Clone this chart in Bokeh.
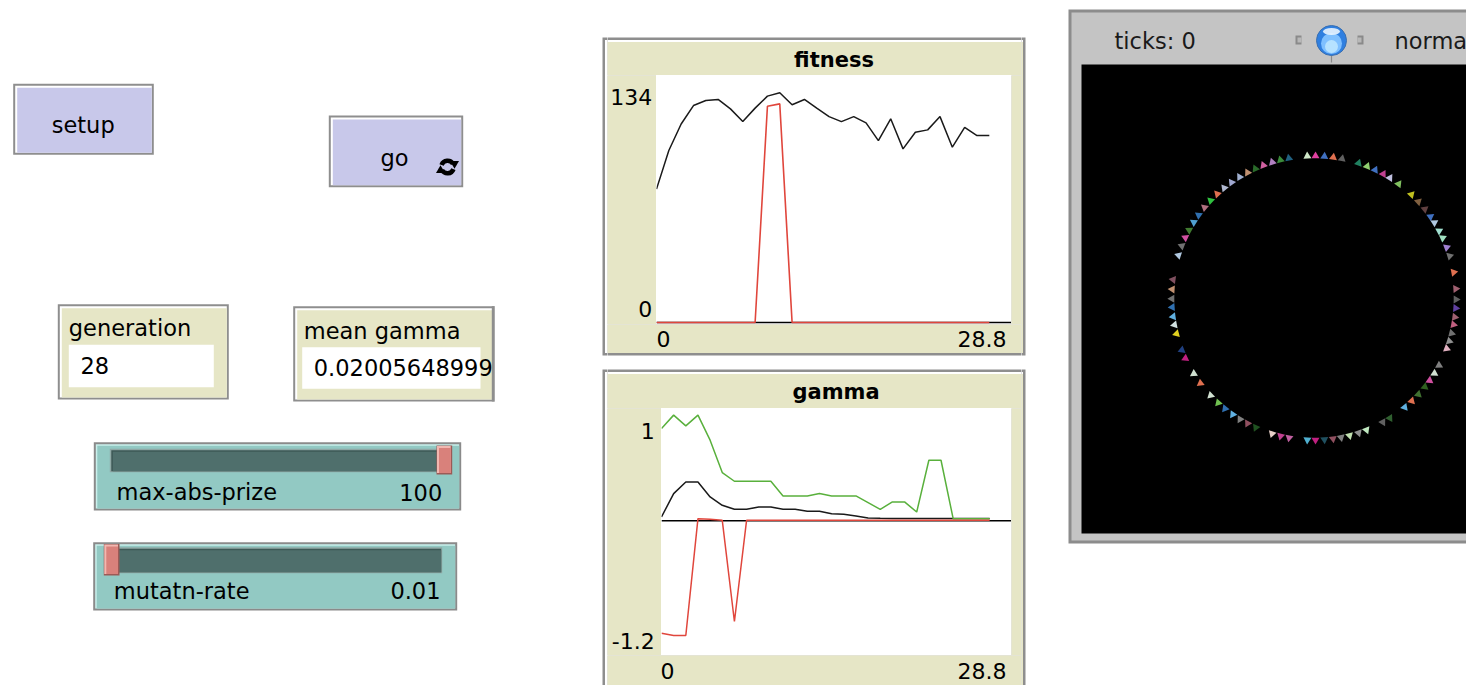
import math
from bokeh.plotting import figure
from bokeh.models import Range1d
from bokeh.layouts import row, column
from bokeh.embed import file_html
from bokeh.resources import INLINE
from bokeh.core.properties import value

# ---------------- data ----------------
GENERATION = [0, 1, 2, 3, 4, 5, 6, 7, 8, 9, 10, 11, 12, 13,
              14, 15, 16, 17, 18, 19, 20, 21, 22, 23, 24, 25, 26, 27]

FITNESS_BLACK = [72.4, 93.3, 107.7, 117.7, 120.4, 121.0, 115.9, 109.0, 116.3, 122.8,
                 124.6, 118.1, 121.0, 116.3, 111.7, 109.0, 111.7, 108.3, 98.7, 110.5,
                 94.2, 103.2, 104.5, 111.7, 95.1, 105.9, 101.4, 101.4]
FITNESS_RED = [0, 0, 0, 0, 0, 0, 0, 0, 0, 117.3,
               118.6, 0, 0, 0, 0, 0, 0, 0, 0, 0,
               0, 0, 0, 0, 0, 0, 0, 0]
FITNESS_X_RANGE = [0, 28.8]
FITNESS_Y_RANGE = [0, 134]
FITNESS_X_LABELS = ["0", "28.8"]
FITNESS_Y_LABELS = ["0", "134"]

GAMMA_MAX = [0.822, 0.941, 0.845, 0.941, 0.718, 0.429, 0.352, 0.352, 0.352, 0.352,
             0.221, 0.221, 0.221, 0.242, 0.221, 0.221, 0.221, 0.162, 0.102, 0.168,
             0.168, 0.078, 0.539, 0.539, 0.019, 0.019, 0.019, 0.019]
GAMMA_MEAN = [0.034, 0.242, 0.346, 0.346, 0.212, 0.138, 0.102, 0.102, 0.123, 0.123,
              0.102, 0.102, 0.084, 0.084, 0.063, 0.058, 0.043, 0.025, 0.022, 0.021,
              0.021, 0.020, 0.020, 0.020, 0.020, 0.020, 0.020, 0.020]
GAMMA_MIN = [-1.001, -1.022, -1.022, 0.019, 0.013, 0.004, -0.897, 0.004, 0.004, 0.004,
             0.004, 0.004, 0.004, 0.004, 0.004, 0.004, 0.004, 0.004, 0.004, 0.004,
             0.004, 0.004, 0.004, 0.004, 0.004, 0.004, 0.004, 0.004]
GAMMA_X_RANGE = [0, 28.8]
GAMMA_Y_RANGE = [-1.2, 1]
GAMMA_X_LABELS = ["0", "28.8"]
GAMMA_Y_LABELS = ["-1.2", "1"]
PLOT_TITLES = ["fitness", "gamma"]

BUTTON_LABELS = ["setup", "go"]
MONITOR_LABELS = ["generation", "mean gamma"]
MONITOR_VALUES = ["28", "0.02005648999"]
SLIDER_LABELS = ["max-abs-prize", "mutatn-rate"]
SLIDER_VALUES = ["100", "0.01"]
SLIDER_FRACTION = [1.0, 0.0]
TICKS_TEXT = "ticks: 0"
SPEED_TEXT = "normal speed"

TURTLE_HEADING = [357.3, 0.6, 4.2, 7.8, 11.4, 18.3, 22.0, 25.5, 29.2, 32.3,
                  36.6, 43.3, 47.3, 51.3, 55.1, 58.0, 61.8, 65.0, 69.1, 72.8,
                  79.6, 86.3, 90.6, 94.1, 97.7, 100.8, 104.4, 107.7, 110.9, 118.3,
                  122.0, 125.5, 128.7, 132.7, 136.5, 140.3, 147.7, 151.0, 158.3, 161.7,
                  165.5, 169.0, 172.3, 175.8, 179.4, 182.7, 190.1, 193.6, 197.2, 204.2,
                  207.9, 211.4, 214.9, 218.8, 222.4, 226.7, 233.1, 237.8, 244.9, 248.5,
                  255.4, 259.1, 262.5, 266.3, 269.7, 273.5, 277.4, 287.5, 291.5, 295.1,
                  298.5, 302.2, 305.7, 309.6, 313.3, 317.1, 320.8, 324.5, 328.4, 332.1,
                  335.6, 339.1, 342.9, 346.3, 349.8]
TURTLE_COLOR = ["#d0e8c8", "#e040a0", "#4070c0", "#e07050", "#606060", "#208060", "#90d070", "#4070c0", "#c04090", "#c0c0e0",
                "#80c060", "#c0c020", "#806040", "#604040", "#4070c0", "#b0c8e0", "#a0e0d0", "#a0e0c0", "#a080d0", "#707070",
                "#e07050", "#a06070", "#606060", "#6040a0", "#a06070", "#c06080", "#707070", "#909090", "#e0b0c0", "#808080",
                "#d0e0d0", "#d050a0", "#306020", "#407030", "#e07050", "#60b0e0", "#306030", "#606060", "#c0e8c0", "#909090",
                "#c0e0b0", "#808080", "#905060", "#205060", "#c02080", "#50b0d0", "#c060a0", "#c04090", "#e8d0c8", "#205020",
                "#905060", "#808080", "#60b0e0", "#3070b0", "#70c050", "#d0e0d0", "#e07050", "#d0e0d0", "#c02080", "#204080",
                "#e0d020", "#d0e0e0", "#60b0e0", "#3070b0", "#707070", "#c09070", "#805060", "#b0c8e0", "#707070", "#d050a0",
                "#407a30", "#50a0d0", "#3070b0", "#b07080", "#30c040", "#e07050", "#b0b8d0", "#a0a8d0", "#a0b0d0", "#c09070",
                "#2a6a2a", "#d060a0", "#b080c0", "#3a8a3a", "#206080"]

# ---------------- styles / layout ----------------
FONT = "DejaVu Sans"
FS = "22px"
WFS = "22.5px"
BEIGE = "#e6e6c6"
LAVENDER = "#c8c8ea"
TEAL = "#92c9c3"
TRACK = "#4f6f6c"
KNOB = "#d9817b"
EDGE = "#8e8e8e"
RED = "#e0463c"
GREEN = "#59b03c"

FIT_PANEL = (602, 37, 1025, 355)
GAM_PANEL = (602, 369, 1025, 740)
FIT_FRAME = (656, 75, 1011, 324)     # left, top, right, bottom in page pixels
FIT_PAD_BOTTOM = 2                   # px kept below y = 0 so the zero pens stay visible
GAM_FRAME = (661, 408, 1011, 655)
MID_L, MID_R = 607, 1021


def canvas(x0, x1, y0, y1):
    p = figure(width=int(x1 - x0), height=int(y1 - y0),
               x_range=Range1d(x0, x1), y_range=Range1d(y1, y0),
               output_backend="svg", toolbar_location=None,
               x_axis_location=None, y_axis_location=None, min_border=0,
               background_fill_color="white", border_fill_color="white",
               outline_line_color=None)
    p.grid.visible = False
    return p


def quad(p, l, t, r, b, color):
    p.quad(left=[l], right=[r], top=[t], bottom=[b], fill_color=color, line_color=None)


def bevel(p, box, fill, edge=EDGE, hi="#ffffff", e=2.5, h=2.0):
    l, t, r, b = box
    quad(p, l, t, r, b, edge)
    quad(p, l + e, t + e, r - e, b - e, hi)
    quad(p, l + e + h, t + e + h, r - e, b - e, fill)


def txt(p, xs, ys, texts, align="left", size=WFS, color="black", style="normal"):
    p.text(x=xs, y=ys, text=texts, text_font=value(FONT), text_font_size=size,
           text_align=align, text_baseline="middle", text_color=color,
           text_font_style=style)


def panels(p):
    bevel(p, FIT_PANEL, BEIGE)
    bevel(p, GAM_PANEL, BEIGE)


def data_plot(frame, xr, yr, pad_bottom=0):
    fl, ft, fr, fb = frame
    h = fb - ft
    y0 = yr[0] - (yr[1] - yr[0]) * pad_bottom / (h - pad_bottom)
    p = figure(width=int(fr - fl), height=int(h),
               x_range=Range1d(xr[0], xr[1]), y_range=Range1d(y0, yr[1]),
               output_backend="svg", toolbar_location=None,
               x_axis_location=None, y_axis_location=None, min_border=0,
               background_fill_color="white", border_fill_color="white",
               outline_line_color=None)
    p.grid.visible = False
    return p


# ---------------- left column: widgets ----------------
left = canvas(0, MID_L, 0, 685)
panels(left)

# buttons
bevel(left, (12.7, 83.3, 153.3, 154.3), LAVENDER, e=2, h=2)
bevel(left, (328.3, 115, 462.7, 186.7), LAVENDER, e=2, h=2)
txt(left, [82.7, 394], [124.5, 157.5], BUTTON_LABELS, align="center")
# "forever" icon on the go button
left.arc(x=[447], y=[166.5], radius=6.3, start_angle=0.5, end_angle=2.8, line_width=4.5, color="black")
left.arc(x=[447], y=[166.5], radius=6.3, start_angle=3.64, end_angle=5.94, line_width=4.5, color="black")
left.scatter(x=[454, 440], y=[163, 170], marker="triangle", size=9,
             angle=[math.pi, 0.0], fill_color="black", line_color=None)

# monitors
bevel(left, (57.3, 303.7, 228.3, 399), BEIGE, e=2, h=2)
quad(left, 68.3, 344.3, 213.3, 386.7, "white")
bevel(left, (292.7, 305.7, 494.3, 401), BEIGE, e=2, h=2)
quad(left, 301.7, 346.7, 480, 388.3, "white")
txt(left, [68.3, 303.3], [327.5, 330.5], MONITOR_LABELS)
txt(left, [80, 313.3], [365, 366.7], MONITOR_VALUES)
# the long monitor value is clipped at the monitor edge
quad(left, 491.3, 305.7, 494.3, 401, EDGE)
quad(left, 494.3, 300, 560, 410, "white")

# sliders
SL_BOX = [(93.3, 441.7, 460.7, 510), (92.7, 541.7, 456.7, 610)]
SL_TRACK = [(109.3, 448.3, 446.7, 471.7), (103.3, 546.7, 441.7, 572.7)]
SL_TEXT_Y = [491.7, 590]
SL_LABEL_X = [116, 113.3]
SL_VALUE_X = [441.7, 440]
KNOB_W = 15.7
for i in range(2):
    bevel(left, SL_BOX[i], TEAL, edge="#8a8a8a", hi="#c9efeb", e=2, h=1.5)
    tl, tt, tr, tb = SL_TRACK[i]
    quad(left, tl, tt, tr, tb, "#8fa9a6")
    quad(left, tl + 1.5, tt + 1.5, tr - 1, tb - 1, "#3d5956")
    quad(left, tl + 3, tt + 3, tr - 1, tb - 1, TRACK)
    kl = tl + SLIDER_FRACTION[i] * (tr + 5 - KNOB_W - tl)
    quad(left, kl, tt - 3.3, kl + KNOB_W, tb + 2.3, "#9b5a56")
    quad(left, kl + 0.5, tt - 2.8, kl + KNOB_W - 1.5, tb + 0.8, "#f2b7b0")
    quad(left, kl + 2.5, tt - 0.8, kl + KNOB_W - 1.5, tb + 0.8, KNOB)
    txt(left, [SL_LABEL_X[i]], [SL_TEXT_Y[i]], [SLIDER_LABELS[i]])
    txt(left, [SL_VALUE_X[i]], [SL_TEXT_Y[i]], [SLIDER_VALUES[i]], align="right")

# ---------------- middle column: the two plots ----------------
fit = data_plot(FIT_FRAME, FITNESS_X_RANGE, FITNESS_Y_RANGE, FIT_PAD_BOTTOM)
fit.line(FITNESS_X_RANGE, [0, 0], line_color="black", line_width=1.6)
fit.line(GENERATION, FITNESS_BLACK, line_color="#1a1a1a", line_width=1.5)
fit.line(GENERATION, FITNESS_RED, line_color=RED, line_width=1.6)

gam = data_plot(GAM_FRAME, GAMMA_X_RANGE, GAMMA_Y_RANGE)
gam.line(GAMMA_X_RANGE, [0, 0], line_color="black", line_width=1.5)
gam.line(GENERATION, GAMMA_MEAN, line_color="#1a1a1a", line_width=1.5)
gam.line(GENERATION, GAMMA_MAX, line_color=GREEN, line_width=1.5)
gam.line(GENERATION, GAMMA_MIN, line_color=RED, line_width=1.5)

# surrounding pieces of the plot panels (titles and range labels)
m_top = canvas(MID_L, MID_R, 0, FIT_FRAME[1])
panels(m_top)
txt(m_top, [(FIT_FRAME[0] + FIT_FRAME[2]) / 2], [59], [PLOT_TITLES[0]],
    align="center", size="21px", style="bold")

f_left = canvas(MID_L, FIT_FRAME[0], FIT_FRAME[1], FIT_FRAME[3])
panels(f_left)
txt(f_left, [FIT_FRAME[0] - 4.3, FIT_FRAME[0] - 4.3], [308.3, 96.7],
    FITNESS_Y_LABELS, align="right", size=FS)
f_right = canvas(FIT_FRAME[2], MID_R, FIT_FRAME[1], FIT_FRAME[3])
panels(f_right)

m_mid = canvas(MID_L, MID_R, FIT_FRAME[3], GAM_FRAME[1])
panels(m_mid)
txt(m_mid, [FIT_FRAME[0]], [338.3], [FITNESS_X_LABELS[0]], size=FS)
txt(m_mid, [FIT_FRAME[2] - 5], [338.3], [FITNESS_X_LABELS[1]], align="right", size=FS)
txt(m_mid, [(GAM_FRAME[0] + GAM_FRAME[2]) / 2 - 0.5], [391.7], [PLOT_TITLES[1]],
    align="center", size="21px", style="bold")

g_left = canvas(MID_L, GAM_FRAME[0], GAM_FRAME[1], GAM_FRAME[3])
panels(g_left)
txt(g_left, [GAM_FRAME[0] - 6.7, GAM_FRAME[0] - 6.7], [640, 430],
    GAMMA_Y_LABELS, align="right", size=FS)
g_right = canvas(GAM_FRAME[2], MID_R, GAM_FRAME[1], GAM_FRAME[3])
panels(g_right)

m_bot = canvas(MID_L, MID_R, GAM_FRAME[3], 685)
panels(m_bot)
txt(m_bot, [GAM_FRAME[0] - 1], [670], [GAMMA_X_LABELS[0]], size=FS)
txt(m_bot, [GAM_FRAME[2] - 5], [670], [GAMMA_X_LABELS[1]], align="right", size=FS)

middle = column(m_top, row(f_left, fit, f_right), m_mid, row(g_left, gam, g_right), m_bot)

# ---------------- right column: world view ----------------
right = canvas(MID_R, 1466, 0, 685)
panels(right)
quad(right, 1068, 9, 1500, 543, "#8c8c8c")
quad(right, 1071, 12, 1500, 540, "#c4c4c4")
quad(right, 1081, 64, 1550, 533, "black")
txt(right, [1114], [40], [TICKS_TEXT], color="#1a1a1a")
txt(right, [1394], [40], [SPEED_TEXT], color="#1a1a1a")
# speed slider
quad(right, 1295, 35, 1301, 44, "#8a8a8a")
quad(right, 1297, 37, 1301, 42, "#b8b8b8")
quad(right, 1357, 35, 1363, 44, "#8a8a8a")
quad(right, 1357, 37, 1361, 42, "#b8b8b8")
right.segment(x0=[1331], y0=[52], x1=[1331], y1=[62], line_color="#8a8a8a", line_width=1.2)
right.circle(x=[1331], y=[40], radius=15, fill_color="#2f7fe0", line_color="#3a6fb0", line_width=1)
right.circle(x=[1331], y=[43], radius=10.5, fill_color="#7fc0ff", line_color=None)
right.circle(x=[1331], y=[46], radius=6.5, fill_color="#b6e2ff", line_color=None)
right.ellipse(x=[1331], y=[31], width=17, height=7, fill_color="#e8f4ff", line_color=None, fill_alpha=0.9)

# turtles laid out on a circle, facing outward
CX, CY, RAD = 1313.5, 297.5, 142
tx = [CX + RAD * math.sin(math.radians(h)) for h in TURTLE_HEADING]
ty = [CY - RAD * math.cos(math.radians(h)) for h in TURTLE_HEADING]
ta = [-math.radians(h) for h in TURTLE_HEADING]
right.scatter(x=tx, y=ty, marker="triangle", size=8, angle=ta,
              fill_color=TURTLE_COLOR, line_color=None)

layout = row(left, middle, right)
open("out.html", "w").write(file_html(layout, INLINE))
